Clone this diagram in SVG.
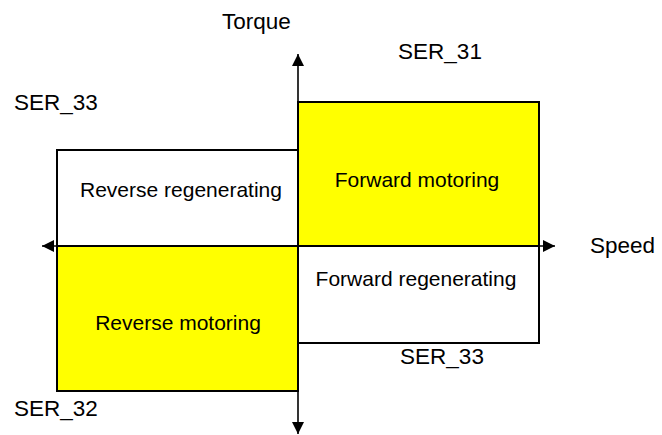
<svg xmlns="http://www.w3.org/2000/svg" width="662" height="435" viewBox="0 0 662 435">
<style>
.q{stroke:#000;stroke-width:2}
.y{fill:#ffff00}
.w{fill:#fff}
text{font-family:"Liberation Sans",Arial,sans-serif;font-size:21px;fill:#000}
.l{font-size:22.5px}
.c{text-anchor:middle}
.ax{stroke:#000;stroke-width:1.6;fill:none}
</style>
<defs>
<marker id="ah" viewBox="0 0 10 10" refX="10" refY="5" markerWidth="12" markerHeight="12" markerUnits="userSpaceOnUse" orient="auto">
<path d="M0,0 L10,5 L0,10 z" fill="#000"/>
</marker>
</defs>
<rect width="662" height="435" fill="#fff"/>
<g id="forward-motoring">
<rect class="q y" x="298" y="102" width="241" height="144"/>
<text class="c" x="417" y="187">Forward motoring</text>
</g>
<g id="reverse-regenerating">
<rect class="q w" x="57" y="150" width="241" height="96"/>
<text class="c" x="181" y="197">Reverse regenerating</text>
</g>
<g id="reverse-motoring">
<rect class="q y" x="57" y="246" width="241" height="145"/>
<text class="c" x="178" y="330">Reverse motoring</text>
</g>
<g id="forward-regenerating">
<rect class="q w" x="298" y="246" width="241" height="97"/>
<text class="c" x="416" y="286">Forward regenerating</text>
</g>
<g id="connectors">
<line class="ax" x1="298" y1="246" x2="298" y2="54" marker-end="url(#ah)"/>
<line class="ax" x1="298" y1="246" x2="298" y2="434" marker-end="url(#ah)"/>
<line class="ax" x1="298" y1="246" x2="42" y2="246" marker-end="url(#ah)"/>
<line class="ax" x1="298" y1="246" x2="555" y2="246" marker-end="url(#ah)"/>
</g>
<g id="labels">
<text class="l" x="222" y="29">Torque</text>
<text class="l" x="590" y="253">Speed</text>
<text class="l c" x="440" y="59">SER_31</text>
<text class="l" x="14" y="110">SER_33</text>
<text class="l c" x="442" y="364">SER_33</text>
<text class="l" x="14" y="416">SER_32</text>
</g>
</svg>
